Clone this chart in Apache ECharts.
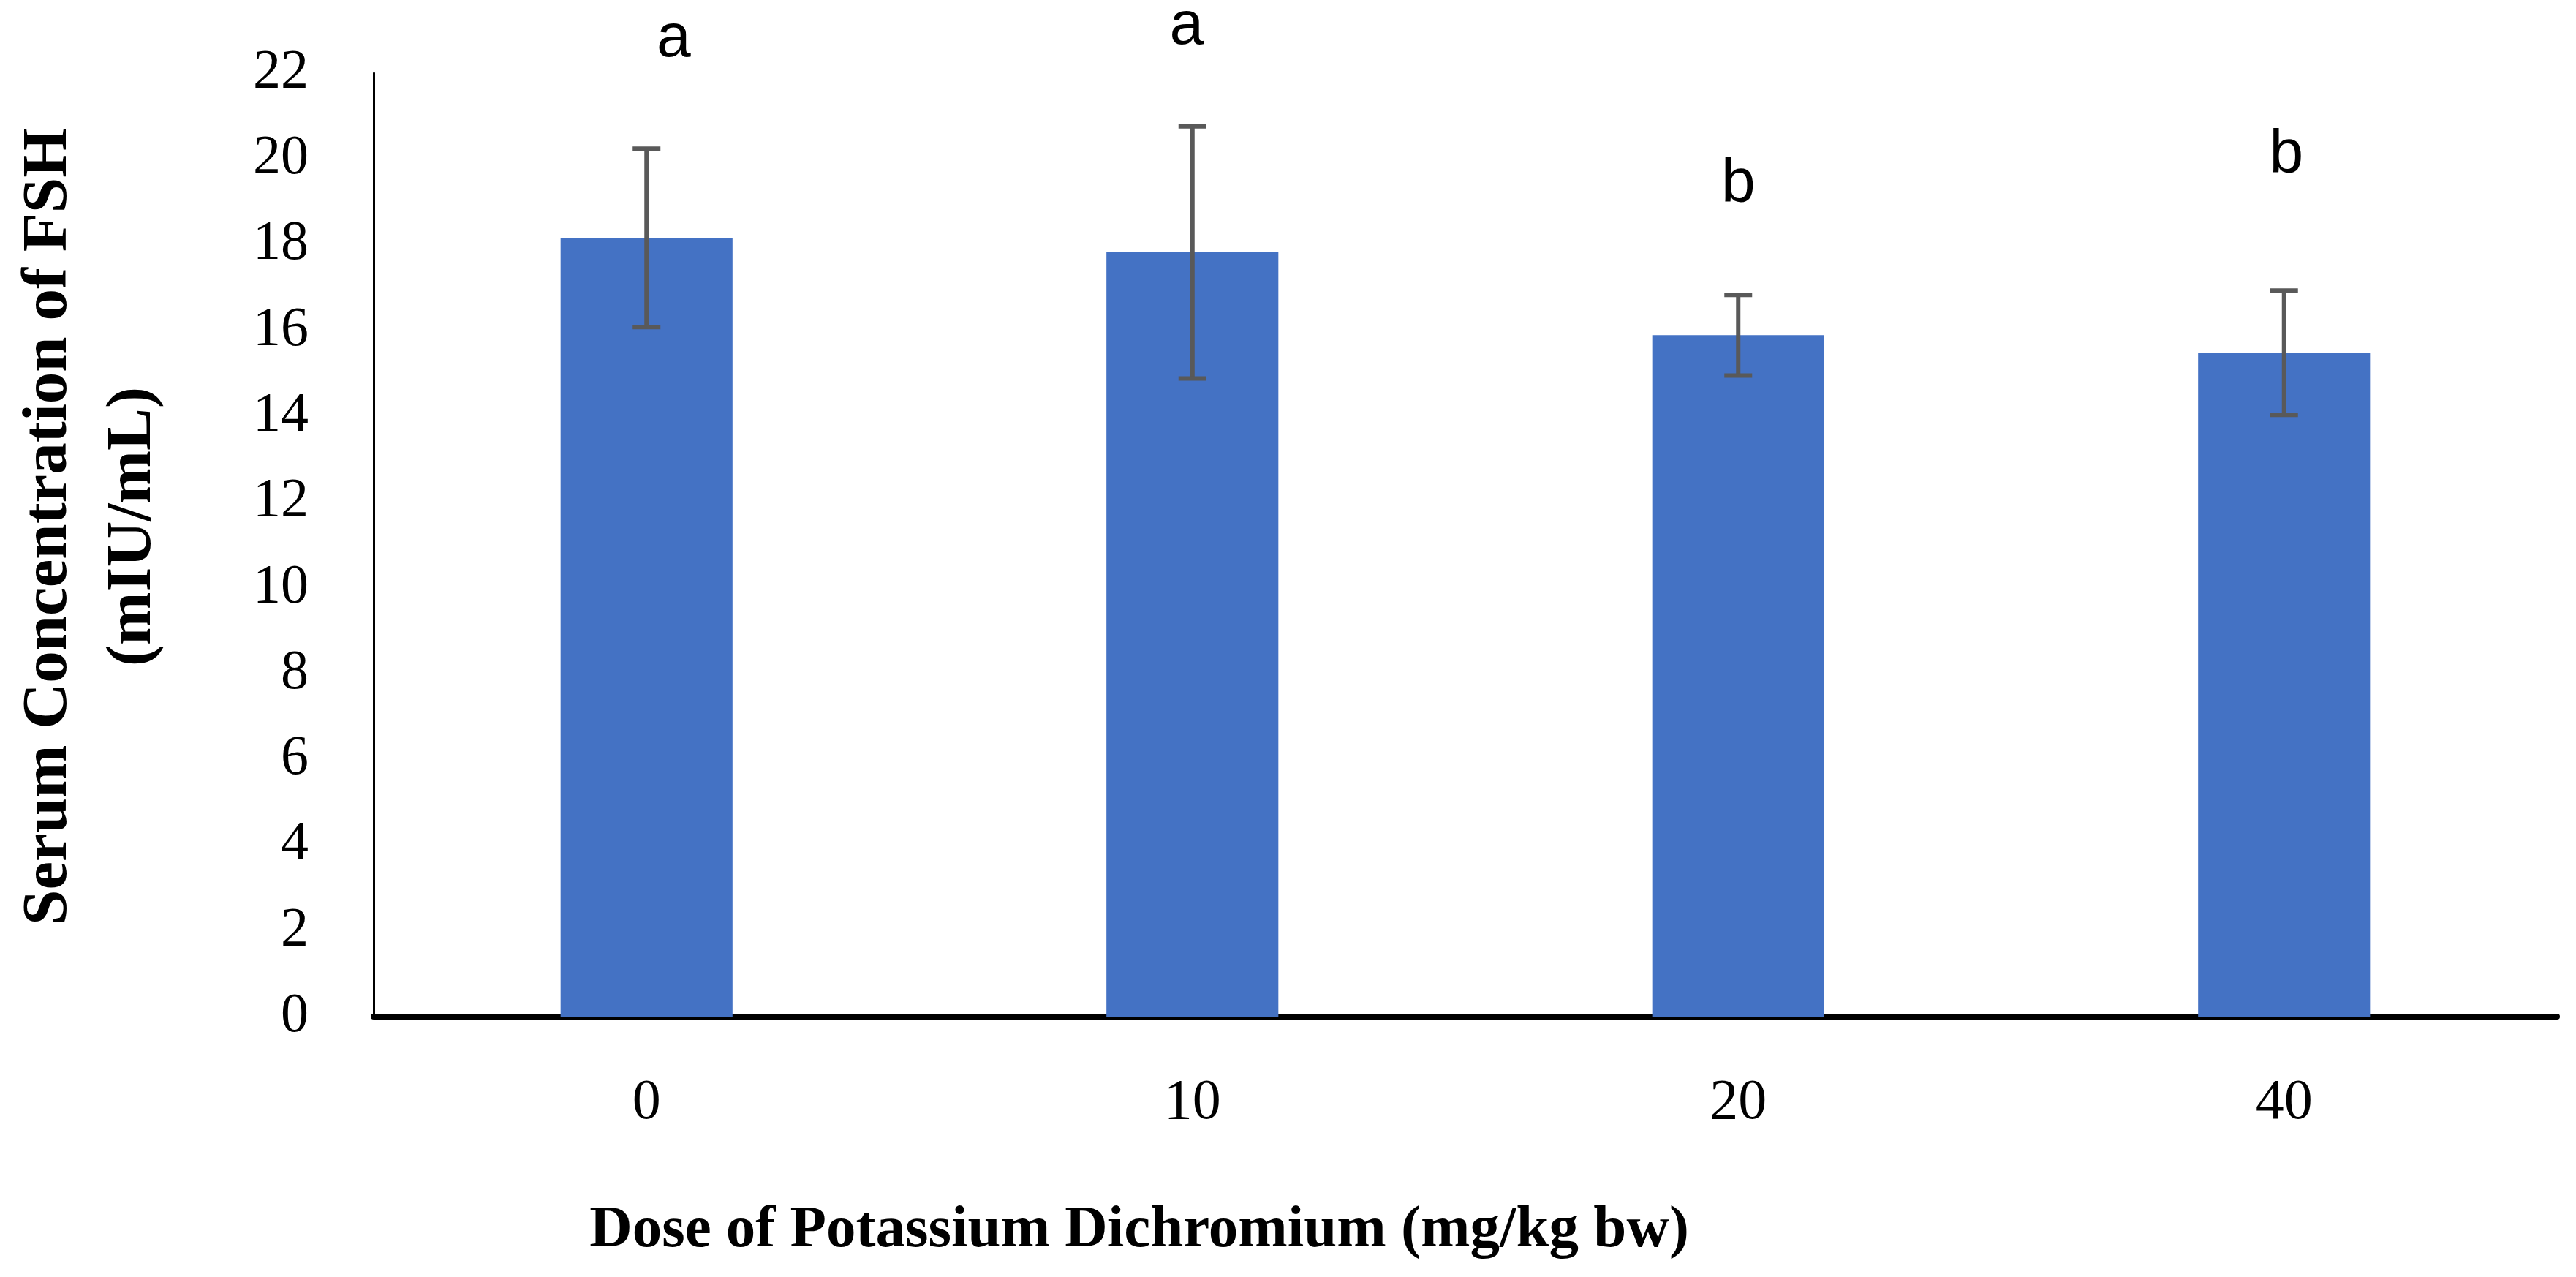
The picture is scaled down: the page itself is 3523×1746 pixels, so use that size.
<!DOCTYPE html>
<html>
<head>
<meta charset="utf-8">
<script src="https://cdn.jsdelivr.net/npm/echarts@6/dist/echarts.min.js"></script>
<style>
  html, body { margin: 0; padding: 0; background: #fff; }
  #chart { width: 3523px; height: 1746px; }
</style>
</head>
<body>
<div id="chart"></div>
<script>
  const doses = ["0", "10", "20", "40"];
  const fshMean = [18.16, 17.82, 15.89, 15.48];
  const fshErr = [2.08, 2.94, 0.94, 1.45];
  const letters = ["a", "a", "b", "b"];
  // baseline of each letter, in axis units
  const letterLevel = [22.37, 22.66, 18.98, 19.66];
  const letterShift = [37, -8, 0, 3];

  const serif = "'Liberation Serif', 'Times New Roman', serif";
  const sans = "'Liberation Sans', Arial, sans-serif";

  const myChart = echarts.init(document.getElementById("chart"));

  function renderErrorBar(params, api) {
    const i = api.value(0);
    const lo = api.coord([i, api.value(1)]);
    const hi = api.coord([i, api.value(2)]);
    const half = 19;
    const style = { stroke: "#595959", lineWidth: 6 };
    return {
      type: "group",
      children: [
        { type: "line", shape: { x1: hi[0], y1: hi[1], x2: lo[0], y2: lo[1] }, style: style },
        { type: "line", shape: { x1: hi[0] - half, y1: hi[1], x2: hi[0] + half, y2: hi[1] }, style: style },
        { type: "line", shape: { x1: lo[0] - half, y1: lo[1], x2: lo[0] + half, y2: lo[1] }, style: style },
      ],
    };
  }

  function renderLetter(params, api) {
    const i = api.value(0);
    const p = api.coord([i, api.value(1)]);
    return {
      type: "text",
      x: p[0] + letterShift[i],
      y: p[1] + 18,
      style: {
        text: letters[i],
        fill: "#000",
        font: "84px " + sans,
        align: "center",
        verticalAlign: "bottom",
      },
    };
  }

  const option = {
    animation: false,
    backgroundColor: "#fff",
    grid: { left: 511, right: 26, top: 100, bottom: 356 },
    xAxis: {
      type: "category",
      data: doses,
      axisLine: { lineStyle: { color: "#000", width: 8 } },
      axisTick: { show: false },
      axisLabel: { color: "#000", fontFamily: serif, fontSize: 78, margin: 80 },
    },
    yAxis: {
      type: "value",
      min: 0,
      max: 22,
      interval: 2,
      splitLine: { show: false },
      axisLine: { show: true, lineStyle: { color: "#000", width: 3 } },
      axisTick: { show: false },
      axisLabel: { color: "#000", fontFamily: serif, fontSize: 76, margin: 89 },
    },
    series: [
      {
        type: "bar",
        data: fshMean,
        barWidth: "31.5%",
        itemStyle: { color: "#4472C4" },
      },
      {
        type: "custom",
        renderItem: renderErrorBar,
        data: fshMean.map((m, i) => [i, m - fshErr[i], m + fshErr[i]]),
        z: 10,
      },
      {
        type: "custom",
        renderItem: renderLetter,
        clip: false,
        data: letterLevel.map((v, i) => [i, v]),
        z: 10,
      },
    ],
    graphic: [
      {
        type: "text",
        x: 125,
        y: 720,
        rotation: Math.PI / 2,
        style: {
          text: "Serum Concentration of FSH\n(mIU/mL)",
          font: "bold 87px " + serif,
          fill: "#000",
          align: "center",
          verticalAlign: "middle",
          lineHeight: 115,
        },
      },
      {
        type: "text",
        x: 1558,
        y: 1683,
        style: {
          text: "Dose of Potassium Dichromium (mg/kg bw)",
          font: "bold 81px " + serif,
          fill: "#000",
          align: "center",
          verticalAlign: "middle",
        },
      },
    ],
  };

  myChart.setOption(option);
</script>
</body>
</html>
